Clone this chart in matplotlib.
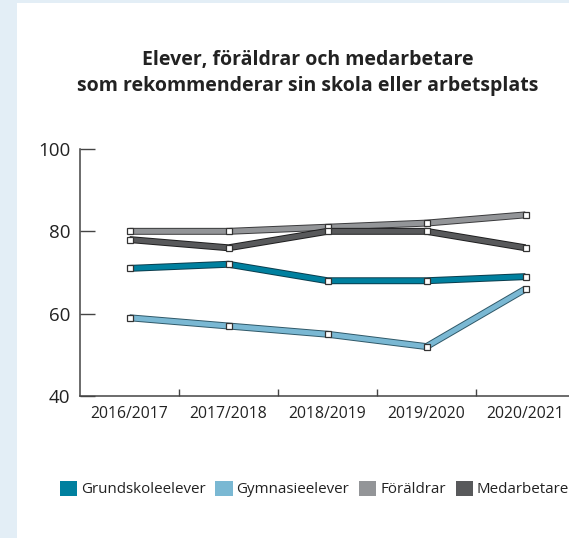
import matplotlib.pyplot as plt
import matplotlib.patheffects as pe
from matplotlib.patches import Patch, Rectangle

plt.rcParams['font.family'] = ['Open Sans', 'DejaVu Sans']

years = ["2016/2017", "2017/2018", "2018/2019", "2019/2020", "2020/2021"]
grundskola = [71, 72, 68, 68, 69]
gymnasie = [59, 57, 55, 52, 66]
foraldrar = [80, 80, 81, 82, 84]
medarbetare = [78, 76, 80, 80, 76]

series = [
    ("Grundskoleelever", grundskola, "#00809f", "#0a3d4d"),
    ("Gymnasieelever", gymnasie, "#7ab8d3", "#2f5868"),
    ("Föräldrar", foraldrar, "#939598", "#3a3a3c"),
    ("Medarbetare", medarbetare, "#58595b", "#1e1e1f"),
]

fig = plt.figure(figsize=(5.69, 5.38), dpi=100)
fig.patch.set_facecolor("white")
# light blue frame on the left and top
fig.add_artist(Rectangle((0, 0), 17 / 569, 1, transform=fig.transFigure,
                         facecolor="#e3eef6", edgecolor="none"))
fig.add_artist(Rectangle((0, 1 - 3 / 538), 1, 3 / 538, transform=fig.transFigure,
                         facecolor="#e3eef6", edgecolor="none"))

ax = fig.add_axes([80 / 569, 142 / 538, 495 / 569, 247 / 538])
x = list(range(len(years)))

for name, vals, col, dark in series:
    ax.plot(x, vals, color=col, lw=3.6, solid_capstyle="butt", solid_joinstyle="miter",
            path_effects=[pe.Stroke(linewidth=5.0, foreground=dark), pe.Normal()])
for name, vals, col, dark in series:
    ax.plot(x, vals, ls="none", marker="s", ms=5, mfc="white", mec="#333333", mew=0.9)

ax.set_xlim(-0.5, 4.5)
ax.set_ylim(40, 100)
ax.set_yticks([40, 60, 80, 100])
ax.set_xticks(x)
ax.set_xticklabels(years)
ax.set_xticks([0.5, 1.5, 2.5, 3.5], minor=True)
ax.tick_params(axis="x", which="major", length=0, labelsize=11.3, pad=7, colors="#222222")
ax.tick_params(axis="x", which="minor", length=5, direction="in", width=1, color="#444444")
ax.tick_params(axis="y", length=11, direction="in", width=1, color="#444444",
               labelsize=13.5, pad=7, labelcolor="#222222")
for s in ["top", "right"]:
    ax.spines[s].set_visible(False)
for s in ["left", "bottom"]:
    ax.spines[s].set_color("#444444")
    ax.spines[s].set_linewidth(1.1)

fig.text(308 / 569, 1 - 73 / 538,
         "Elever, föräldrar och medarbetare\nsom rekommenderar sin skola eller arbetsplats",
         ha="center", va="center", fontsize=14, fontweight="bold", color="#222222",
         linespacing=1.35)

handles = [Patch(facecolor=c, edgecolor="none") for _, _, c, _ in series]
fig.legend(handles, [s[0] for s in series], loc="center left",
           bbox_to_anchor=(46 / 569, 1 - 489 / 538), ncol=4, frameon=False,
           fontsize=10.9, handlelength=1.15, handleheight=1.15, handletextpad=0.25,
           columnspacing=0.65, labelcolor="#222222")

fig.savefig("out.png", dpi=100)
